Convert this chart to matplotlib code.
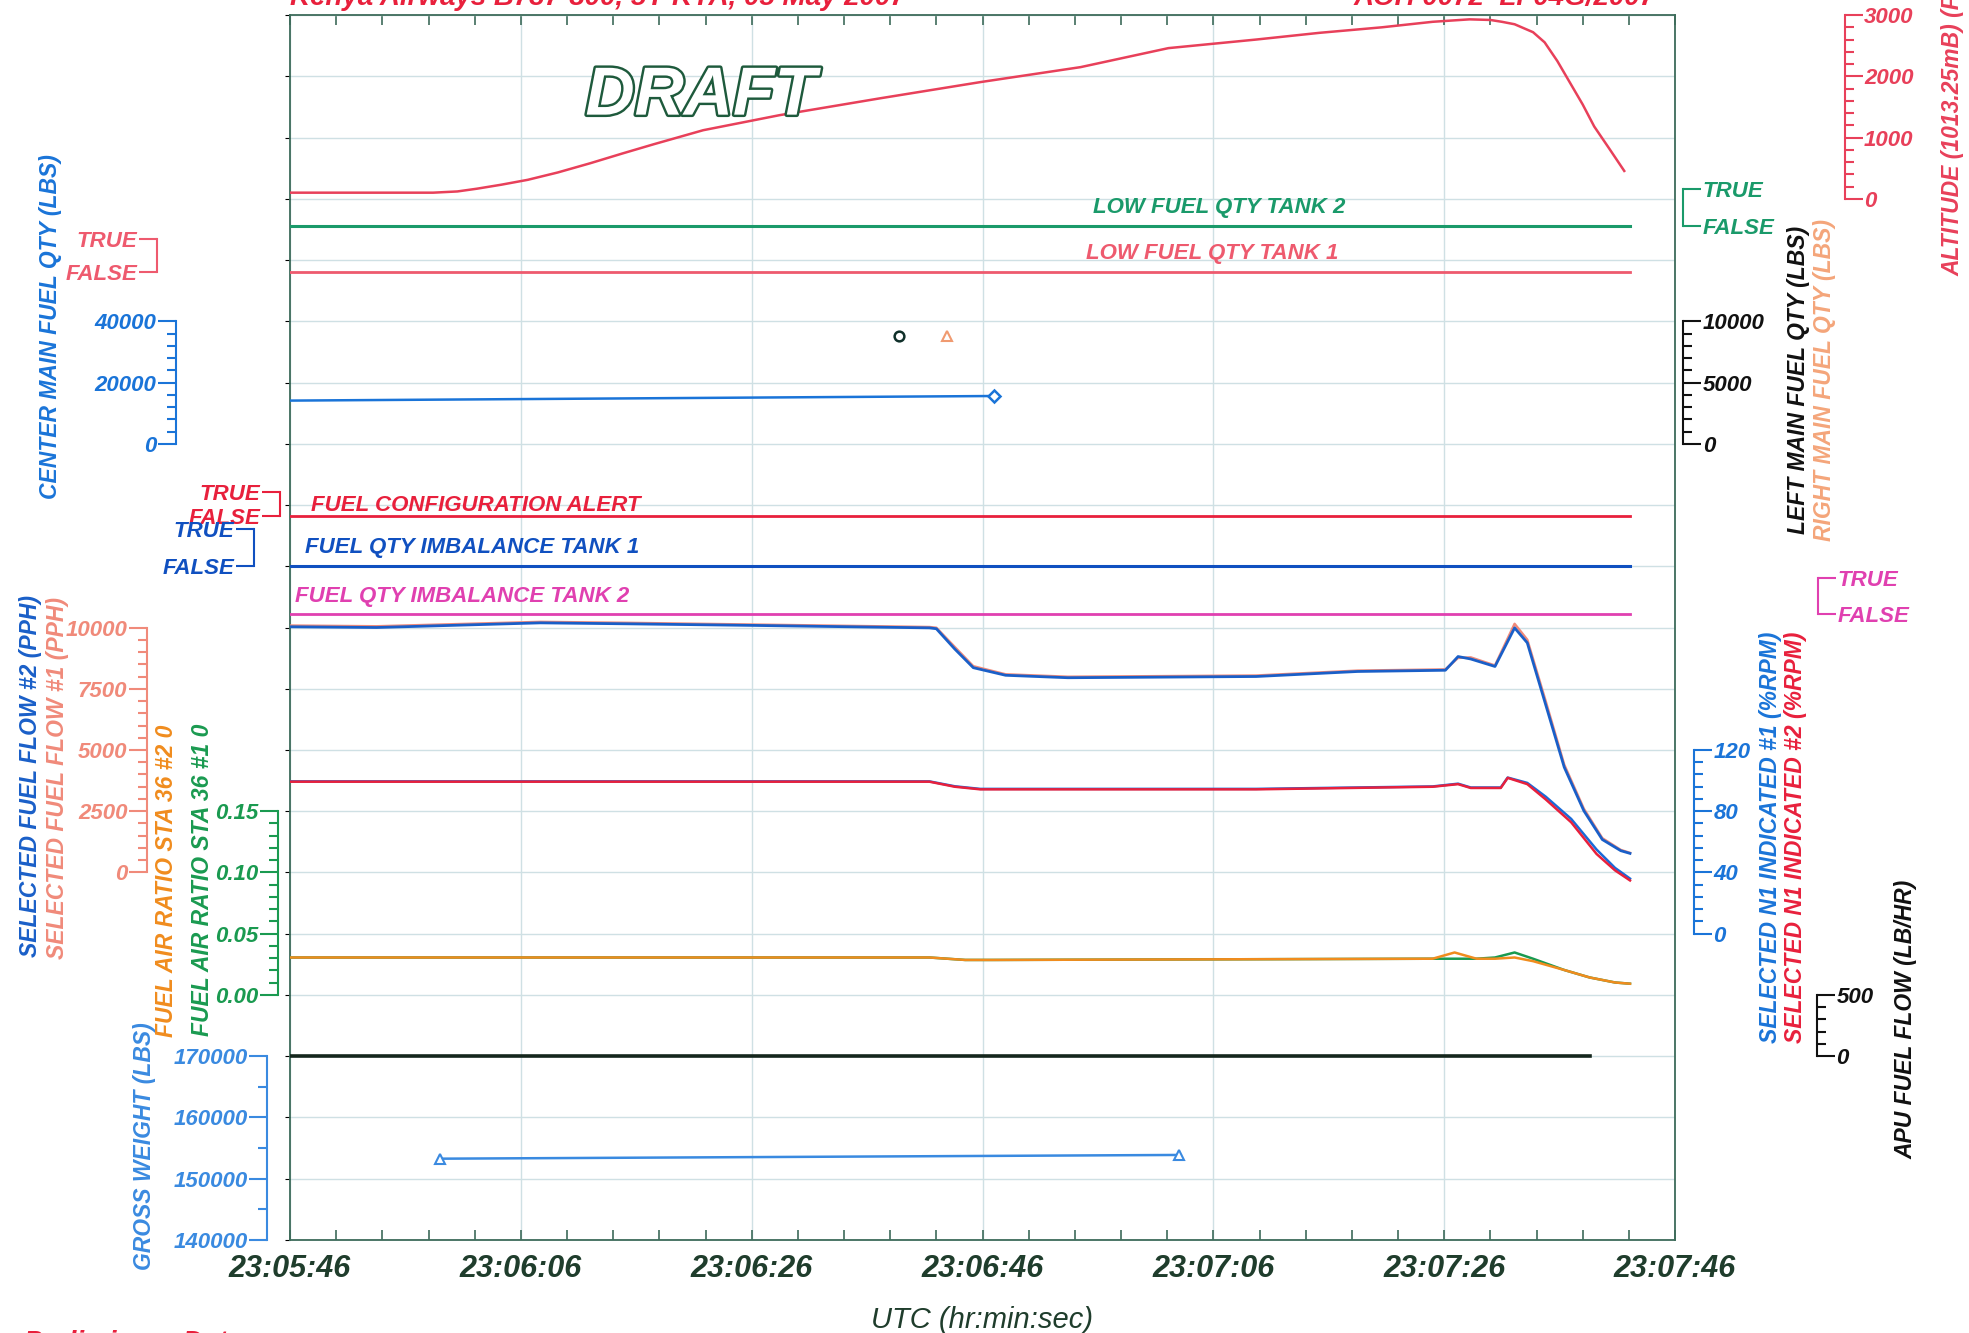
import numpy as np
import matplotlib
matplotlib.use("Agg")
from matplotlib import pyplot as plt
from matplotlib import patheffects
from matplotlib.ticker import FixedLocator, MultipleLocator

plt.rcParams['font.family'] = ['Liberation Sans', 'DejaVu Sans']
plt.rcParams['font.weight'] = 'bold'
plt.rcParams['font.style'] = 'italic'

# time axis: seconds after 23:05:46
x_ticks = [0, 20, 40, 60, 80, 100, 120]
x_labels = ['23:05:46', '23:06:06', '23:06:26', '23:06:46', '23:07:06', '23:07:26', '23:07:46']

# pressure altitude (ft)
alt_t = [0, 12.4, 14.5, 16.2, 18.3, 20.6, 23.2, 26.0, 28.8, 31.5, 35.8, 42.4, 51.1, 59.8, 68.5,
         76.1, 83.7, 89.2, 94.6, 99.0, 102.2, 104.0, 105.0, 106.1, 107.7, 108.7, 109.8,
         110.9, 112.0, 113.0, 114.3, 115.6]
alt_ft = [100, 100, 120, 165, 230, 310, 430, 580, 740, 890, 1120, 1365, 1640, 1905, 2150,
          2460, 2600, 2710, 2800, 2890, 2930, 2920, 2890, 2850, 2720, 2555, 2250,
          1895, 1540, 1180, 820, 455]

# discrete parameters (0 = FALSE)
disc_t = [0, 116.1]
low_fuel_2 = [0, 0]
low_fuel_1 = [0, 0]
fuel_config = [0, 0]
imbalance_1 = [0, 0]
imbalance_2 = [0, 0]

# fuel quantities (lbs)
center_t = [0, 61.0]
center_lbs = [14100, 15600]
left_main_t = [52.8]
left_main_lbs = [8760]
right_main_t = [56.95]
right_main_lbs = [8760]

# selected fuel flow (pph)
ff_t = [0, 7.5, 21.7, 29.3, 40.2, 55.4, 56.0, 57.6, 59.2, 62.0, 67.4, 83.7, 92.5, 100.1,
        101.2, 102.3, 104.4, 106.1, 107.2, 108.8, 110.4, 112.1, 113.7, 115.3, 116.1]
ff_2 = [10030, 10000, 10190, 10150, 10085, 9985, 9950, 9120, 8360, 8050, 7950, 8000, 8205, 8255,
        8815, 8715, 8410, 9985, 9375, 6840, 4300, 2520, 1345, 890, 780]
ff_1 = [10080, 10050, 10230, 10190, 10120, 10020, 9990, 9200, 8420, 8090, 7990, 8040, 8240, 8290,
        8760, 8780, 8450, 10150, 9500, 6980, 4400, 2600, 1400, 920, 800]

# selected N1 (%rpm)
n1_t = [0, 55.4, 57.6, 59.8, 83.7, 99.0, 101.2, 102.3, 104.9, 105.5, 107.2, 108.8, 111.0,
        113.2, 114.8, 116.1]
n1_1 = [99.5, 99.5, 96.3, 94.6, 94.6, 96.2, 98.0, 95.5, 95.5, 102.0, 98.5, 89.5, 75.0,
        55.0, 43.0, 36.0]
n1_2 = [99.3, 99.3, 96.0, 94.3, 94.3, 96.0, 97.7, 95.2, 95.2, 101.8, 97.7, 87.7, 72.8,
        52.1, 41.4, 34.8]

# fuel air ratio sta 36
far_t = [0, 55.4, 58.5, 60.9, 99.0, 100.9, 102.8, 104.4, 106.1, 107.7, 110.4, 112.6, 114.8, 116.1]
far_2 = [0.0306, 0.0306, 0.0286, 0.0286, 0.0296, 0.0347, 0.0296, 0.0296, 0.0306, 0.0276,
         0.0204, 0.0143, 0.0102, 0.0092]
far_1 = [0.0306, 0.0306, 0.0286, 0.0286, 0.0296, 0.0296, 0.0296, 0.0306, 0.0347, 0.0296,
         0.0204, 0.0143, 0.0102, 0.0092]

# apu fuel flow (lb/hr)
apu_t = [0, 112.6]
apu_flow = [0, 0]

# gross weight (lbs)
gw_t = [12.96, 77.0]
gw_lbs = [153270, 153880]

RED = '#e8405a'
FRAME = '#3d6b5a'
DARK = '#1f3d2c'

fig = plt.figure(figsize=(19.69, 13.33), dpi=100)
ax = fig.add_axes([0.1473, 0.0698, 0.7034, 0.9189])
ax.set_xlim(0, 120)
ax.set_ylim(0, 20)
ax.set_xticks(x_ticks)
ax.set_xticklabels(x_labels)
ax.xaxis.set_minor_locator(MultipleLocator(4))
ax.set_yticks(range(21))
ax.tick_params(axis='y', left=False, labelleft=False)
ax.tick_params(axis='x', which='both', direction='in', top=True, bottom=True, color=FRAME,
               length=7, width=1.2, labelsize=22, labelcolor=DARK, pad=10)
ax.grid(True, color='#cfe0e4', lw=1)
ax.set_axisbelow(True)
for s in ax.spines.values():
    s.set_color(FRAME)
    s.set_linewidth(1.3)
ax.set_xlabel('UTC (hr:min:sec)', fontsize=21, color=DARK, labelpad=16)


def scale(lo, hi, g_lo, g_hi, side, pos, color, major, minor=None, labels=None):
    t = ax.twinx()
    per = (hi - lo) / (g_hi - g_lo)
    t.set_ylim(lo - g_lo * per, lo + (20 - g_lo) * per)
    for s in t.spines.values():
        s.set_visible(False)
    sp = t.spines[side]
    sp.set_visible(True)
    sp.set_position(('axes', pos))
    sp.set_bounds(lo, hi)
    sp.set_color(color)
    sp.set_linewidth(1.5)
    if side == 'left':
        t.yaxis.tick_left()
    else:
        t.yaxis.tick_right()
    t.yaxis.set_major_locator(FixedLocator(major))
    if labels:
        t.set_yticklabels(labels)
    if minor:
        t.yaxis.set_minor_locator(FixedLocator(np.arange(lo, hi + minor / 2, minor)))
    t.tick_params(axis='y', which='major', direction='out', length=13, width=1.5,
                  color=color, labelcolor=color, labelsize=16, pad=1)
    t.tick_params(axis='y', which='minor', direction='out', length=6.5, width=1.5, color=color)
    return t


tf = ['FALSE', 'TRUE']

# altitude
a = scale(0, 3000, 17, 20, 'right', 1.1225, RED, [0, 1000, 2000, 3000], 200)
a.plot(alt_t, alt_ft, color=RED, lw=1.8)

# discretes
c = '#1a9a6a'
d = scale(0, 1, 16.56, 17.16, 'right', 1.006, c, [0, 1], labels=tf)
d.plot(disc_t, low_fuel_2, color=c, lw=2.2)
ax.text(69.6, 16.86, 'LOW FUEL QTY TANK 2', color=c, fontsize=16, va='center')

c = '#ee5a6e'
d = scale(0, 1, 15.80, 16.35, 'left', -0.0962, c, [0, 1], labels=tf)
d.plot(disc_t, low_fuel_1, color=c, lw=2.0)
ax.text(69.0, 16.10, 'LOW FUEL QTY TANK 1', color=c, fontsize=16, va='center')

c = '#e8203c'
d = scale(0, 1, 11.82, 12.21, 'left', -0.0073, c, [0, 1], labels=tf)
d.plot(disc_t, fuel_config, color=c, lw=2.0)
ax.text(1.85, 12.0, 'FUEL CONFIGURATION ALERT', color=c, fontsize=16, va='center')

c = '#1050c0'
d = scale(0, 1, 11.0, 11.61, 'left', -0.0263, c, [0, 1], labels=tf)
d.plot(disc_t, imbalance_1, color=c, lw=2.2)
ax.text(1.3, 11.30, 'FUEL QTY IMBALANCE TANK 1', color=c, fontsize=16, va='center')

c = '#e040b0'
d = scale(0, 1, 10.215, 10.81, 'right', 1.1034, c, [0, 1], labels=tf)
d.plot(disc_t, imbalance_2, color=c, lw=2.0)
ax.text(0.44, 10.50, 'FUEL QTY IMBALANCE TANK 2', color=c, fontsize=16, va='center')

# fuel quantities
c = '#1a74d8'
q = scale(0, 40000, 13, 15, 'left', -0.0824, c, [0, 20000, 40000], 4000)
q.plot(center_t, center_lbs, color=c, lw=1.8)
q.plot(center_t[-1:], center_lbs[-1:], marker='D', ms=6, mfc='white', mec=c, mew=1.8, ls='none')

m = scale(0, 10000, 13, 15, 'right', 1.006, '#111111', [0, 5000, 10000], 1000)
m.plot(left_main_t, left_main_lbs, marker='o', ms=7, mfc='none', mec='#10302a', mew=1.8, ls='none')
m.plot(right_main_t, right_main_lbs, marker='^', ms=7, mfc='none', mec='#f09a70', mew=1.5, ls='none')

# fuel flow
f = scale(0, 10000, 6, 10, 'left', -0.1034, '#f08a7a', [0, 2500, 5000, 7500, 10000], 500)
f.plot(ff_t, ff_1, color='#f08a7a', lw=1.8)
f.plot(ff_t, ff_2, color='#1a5fc8', lw=2.0)

# N1
n = scale(0, 120, 5, 8, 'right', 1.0136, '#1a74d8', [0, 40, 80, 120], 8)
n.plot(n1_t, n1_1, color='#1a6ad8', lw=1.8)
n.plot(n1_t, n1_2, color='#e8203c', lw=1.8)

# fuel air ratio
r = scale(0, 0.15, 4, 7, 'left', -0.0087, '#1a9a50', [0, 0.05, 0.10, 0.15], 0.01)
r.set_yticklabels(['0.00', '0.05', '0.10', '0.15'])
r.plot(far_t, far_1, color='#1a9a50', lw=1.8)
r.plot(far_t, far_2, color='#f08c1e', lw=1.8)

# apu fuel flow
p = scale(0, 500, 3, 4, 'right', 1.1026, '#111111', [0, 500], 100)
p.plot(apu_t, apu_flow, color='#14261c', lw=2.6)

# gross weight
c = '#3a8ae0'
w = scale(140000, 170000, 0, 3, 'left', -0.0163, c, [140000, 150000, 160000, 170000], 5000)
w.plot(gw_t, gw_lbs, color=c, lw=1.8, marker='^', ms=7, mfc='white', mec=c, mew=1.5)

# axis titles (positions in figure fractions)
def vlabel(x, y, s, color, va='center'):
    fig.text(x, y, s, rotation=90, ha='center', va=va, color=color, fontsize=16.5)

vlabel(1555 / 1568, 1 - 220 / 1062, 'ALTITUDE (1013.25mB) (FT)', RED, va='bottom')
vlabel(40 / 1568, 1 - 260 / 1062, 'CENTER MAIN FUEL QTY (LBS)', '#1a74d8')
vlabel(1432 / 1568, 1 - 303 / 1062, 'LEFT MAIN FUEL QTY (LBS)', '#111111')
vlabel(1453 / 1568, 1 - 303 / 1062, 'RIGHT MAIN FUEL QTY (LBS)', '#f4a57a')
vlabel(24 / 1568, 1 - 618 / 1062, 'SELECTED FUEL FLOW #2 (PPH)', '#1a5fc8')
vlabel(45.6 / 1568, 1 - 620 / 1062, 'SELECTED FUEL FLOW #1 (PPH)', '#f08a7a')
vlabel(132.6 / 1568, 1 - 702 / 1062, 'FUEL AIR RATIO STA 36 #2 0', '#f08c1e')
vlabel(161 / 1568, 1 - 701 / 1062, 'FUEL AIR RATIO STA 36 #1 0', '#1a9a50')
vlabel(115 / 1568, 1 - 913 / 1062, 'GROSS WEIGHT (LBS)', '#3a8ae0')
vlabel(1410 / 1568, 1 - 667 / 1062, 'SELECTED N1 INDICATED #1 (%RPM)', '#1a74d8')
vlabel(1430 / 1568, 1 - 667 / 1062, 'SELECTED N1 INDICATED #2 (%RPM)', '#e8203c')
vlabel(1518 / 1568, 1 - 812 / 1062, 'APU FUEL FLOW (LB/HR)', '#111111')

# titles cut by the page edge
fig.text(0.1473, 0.9966, 'Kenya Airways B737-800, 5Y-KYA, 05 May 2007', color='#e8203c',
         fontsize=20, va='baseline', ha='left')
fig.text(0.841, 0.9966, 'AOH 0072  LF04G/2007', color='#e8203c', fontsize=20,
         va='baseline', ha='right')
fig.text(0.012, 0.0023, 'Preliminary Data', color='#e8203c', fontsize=20, va='top', ha='left')

fig.text(558 / 1568, 1 - 77 / 1062, 'DRAFT', fontsize=49, color='white', ha='center', va='center',
         path_effects=[patheffects.withStroke(linewidth=3.5, foreground='#1e5a3c')])

fig.savefig('out.png', dpi=100)
